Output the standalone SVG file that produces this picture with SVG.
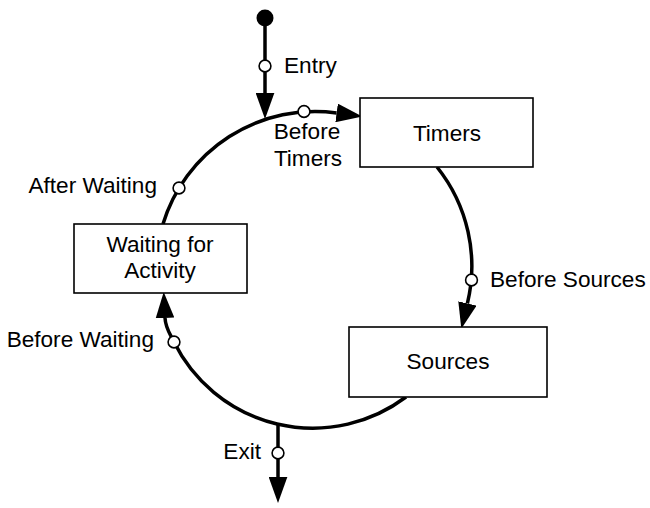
<svg xmlns="http://www.w3.org/2000/svg" width="650" height="508" viewBox="0 0 650 508">
<style>
.box{fill:#fff;stroke:#000;stroke-width:1.6}
.con{fill:none;stroke:#000;stroke-width:3.5}
.pt{fill:#fff;stroke:#000;stroke-width:1.6}
text{font-family:"Liberation Sans",Arial,Helvetica,sans-serif;font-size:22.6px;fill:#000}
.c{text-anchor:middle}
.e{text-anchor:end}
</style>
<defs>
<marker id="arr" markerUnits="userSpaceOnUse" markerWidth="26" markerHeight="19" viewBox="0 0 25 18" refX="0" refY="9" orient="auto">
<path d="M0,0 L25,9 L0,18 z" fill="#000"/>
</marker>
</defs>
<g id="connectors">
<path class="con" d="M265,26 L265,93" marker-end="url(#arr)"/>
<path class="con" d="M163,224 A159,159 0 0 1 336.6,112.9" marker-end="url(#arr)"/>
<path class="con" d="M437,167 A159,159 0 0 1 467.4,303.5" marker-end="url(#arr)"/>
<path class="con" d="M406,397 A155,155 0 0 1 174,342 C169.6,333 165.5,328 165,318" marker-end="url(#arr)"/>
<path class="con" d="M278,424 L278,477" marker-end="url(#arr)"/>
</g>
<g id="start"><circle cx="265" cy="18" r="8.5" fill="#000"/></g>
<g id="timers"><rect class="box" x="360" y="98" width="173" height="69"/><text class="c" x="447" y="141">Timers</text></g>
<g id="sources"><rect class="box" x="349" y="327" width="198" height="70"/><text class="c" x="448" y="369">Sources</text></g>
<g id="waiting"><rect class="box" x="74" y="224" width="173" height="69"/><text class="c" x="160" y="252">Waiting for</text><text class="c" x="160" y="278">Activity</text></g>
<g id="entry"><circle class="pt" cx="265" cy="66" r="5.9"/><text x="284" y="73">Entry</text></g>
<g id="before-timers"><circle class="pt" cx="304" cy="111.5" r="5.9"/><text class="c" x="307" y="139">Before</text><text class="c" x="308" y="166">Timers</text></g>
<g id="before-sources"><circle class="pt" cx="471.5" cy="280" r="5.9"/><text x="490" y="287">Before Sources</text></g>
<g id="after-waiting"><circle class="pt" cx="179" cy="188" r="5.9"/><text class="e" x="157" y="193">After Waiting</text></g>
<g id="before-waiting"><circle class="pt" cx="174" cy="342" r="5.9"/><text class="e" x="154" y="347">Before Waiting</text></g>
<g id="exit"><circle class="pt" cx="278" cy="453" r="5.9"/><text class="e" x="261" y="459">Exit</text></g>
</svg>
